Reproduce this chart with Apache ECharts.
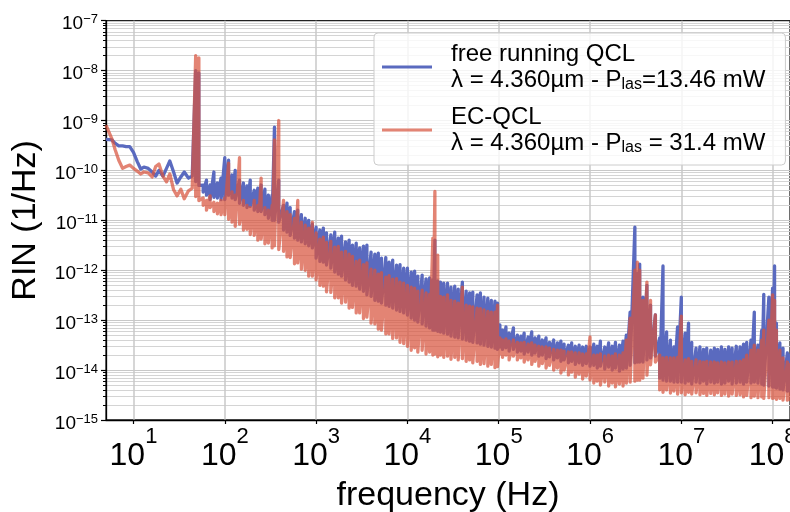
<!DOCTYPE html>
<html>
<head>
<meta charset="utf-8">
<script src="https://cdn.jsdelivr.net/npm/echarts@6/dist/echarts.min.js"></script>
<style>
  html, body { margin: 0; padding: 0; background: #ffffff; }
  #chart { width: 790px; height: 512px; }
</style>
</head>
<body>
<div id="chart"></div>
<script>
// Frequencies (Hz) at which the band of each spectrum was read
const freq = [
  5, 5.8, 6.3, 6.9, 7.6, 8.3, 9.1,
  10, 11, 12, 13, 14.5, 16, 17.5, 19, 21, 23, 25, 27.5, 30, 33, 36, 40, 44, 48, 52, 58, 63, 69, 76, 83, 91,
  100, 110, 120, 130, 145, 160, 175, 190, 210, 230, 250, 275, 300, 330, 350, 390, 440, 480, 520, 580, 630, 690, 760, 830, 910,
  1e3, 1.1e3, 1.2e3, 1.3e3, 1.45e3, 1.6e3, 1.75e3, 1.9e3, 2.1e3, 2.3e3, 2.5e3, 2.75e3, 3e3, 3.3e3, 3.6e3, 4e3, 4.4e3, 4.8e3, 5.2e3, 5.8e3, 6.3e3, 6.9e3, 7.6e3, 8.3e3, 9.1e3,
  1e4, 1.1e4, 1.2e4, 1.3e4, 1.45e4, 1.6e4, 1.75e4, 1.9e4, 2e4, 2.15e4, 2.3e4, 2.5e4, 2.75e4, 3e4, 3.3e4, 3.6e4, 4e4, 4.4e4, 4.8e4, 5.2e4, 5.8e4, 6.3e4, 6.9e4, 7.6e4, 8.3e4, 9.1e4, 9.7e4,
  1.03e5, 1.1e5, 1.2e5, 1.3e5, 1.45e5, 1.6e5, 1.75e5, 1.9e5, 2.1e5, 2.3e5, 2.5e5, 2.75e5, 3e5, 3.3e5, 3.6e5, 4e5, 4.4e5, 4.8e5, 5.2e5, 5.8e5, 6.3e5, 6.9e5, 7.6e5, 8.3e5, 9.1e5,
  1e6, 1.1e6, 1.2e6, 1.3e6, 1.45e6, 1.6e6, 1.75e6, 1.9e6, 2.1e6, 2.3e6, 2.5e6, 2.75e6, 3.1e6, 3.3e6, 3.5e6, 3.8e6, 4.2e6, 4.6e6, 5.2e6, 5.8e6, 6.3e6, 6.9e6, 7.6e6, 8.3e6, 9.1e6,
  1e7, 1.1e7, 1.2e7, 1.3e7, 1.45e7, 1.6e7, 1.75e7, 1.9e7, 2.1e7, 2.3e7, 2.5e7, 2.75e7, 3e7, 3.3e7, 3.6e7, 4e7, 4.4e7, 4.8e7, 5.2e7, 5.8e7, 6.3e7, 6.9e7, 7.6e7, 8e7, 9.1e7,
  1e8, 1.05e8, 1.1e8, 1.2e8, 1.3e8, 1.45e8, 1.55e8
];

// free running QCL: upper and lower edge of the noisy trace (1/Hz)
const blueHi = [
  4.2e-10, 4.1e-10, 3.5e-10, 3.1e-10, 3.1e-10, 3.0e-10, 3.0e-10,
  2.3e-10, 1.5e-10, 1.07e-10, 1.17e-10, 1.1e-10, 9.3e-11, 7.7e-11, 1.0e-10, 7.7e-11, 1.1e-10, 1.55e-10, 9.3e-11, 5.6e-11, 7.4e-11, 9.3e-11, 7.0e-11, 7.7e-11, 1.0e-8, 9.0e-9, 5.1e-11, 6.4e-11, 5.1e-11, 9.3e-11, 5.6e-11, 7.0e-11,
  1.8e-10, 1.6e-10, 8.1e-11, 1.0e-10, 6.4e-11, 5.6e-11, 4.9e-11, 6.4e-11, 4.0e-11, 4.4e-11, 5.1e-11, 4.2e-11, 3.2e-11, 3.2e-11, 7.4e-10, 6.4e-11, 2.0e-11, 2.2e-11, 1.8e-11, 1.5e-11, 1.6e-11, 1.3e-11, 1.1e-11, 1.0e-11, 8.4e-12,
  7.3e-12, 6.4e-12, 7.0e-12, 5.6e-12, 5.1e-12, 5.8e-12, 4.4e-12, 4.8e-12, 3.7e-12, 4.0e-12, 3.2e-12, 3.5e-12, 2.8e-12, 3.05e-12, 3.2e-12, 2.3e-12, 2.1e-12, 2.2e-12, 1.75e-12, 1.8e-12, 1.45e-12, 1.6e-12, 1.27e-12, 1.3e-12, 1.1e-12,
  1.1e-12, 9.2e-13, 9.6e-13, 7.6e-13, 8.0e-13, 6.7e-13, 7.0e-13, 6.4e-13, 4.0e-12, 6.1e-13, 5.8e-13, 5.5e-13, 5.5e-13, 4.6e-13, 4.8e-13, 4.2e-13, 5.8e-13, 3.8e-13, 3.5e-13, 3.65e-13, 3.2e-13, 3.5e-13, 2.9e-13, 2.75e-13, 2.5e-13, 2.4e-13, 2.2e-13,
  8.0e-14, 6.3e-14, 7.3e-14, 5.5e-14, 7.0e-14, 5.0e-14, 4.8e-14, 5.5e-14, 4.6e-14, 5.8e-14, 4.4e-14, 4.8e-14, 4.0e-14, 4.4e-14, 3.6e-14, 4.0e-14, 3.5e-14, 3.8e-14, 3.3e-14, 3.15e-14, 3.5e-14, 3.0e-14, 3.15e-14, 2.9e-14, 3.0e-14,
  2.9e-14, 3.3e-14, 3.0e-14, 3.8e-14, 2.9e-14, 3.5e-14, 3.0e-14, 3.6e-14, 3.15e-14, 3.8e-14, 5.0e-14, 1.45e-13, 7.3e-12, 8.8e-13, 1.33e-12, 2.9e-13, 5.0e-13, 2.0e-13, 1.27e-13, 4.4e-14, 1.22e-12, 5.8e-14, 4.0e-14, 2.9e-14, 7.3e-14,
  2.9e-13, 5.5e-14, 8.7e-14, 3.6e-14, 2.75e-14, 2.9e-14, 2.6e-14, 2.75e-14, 2.5e-14, 2.75e-14, 2.6e-14, 2.9e-14, 2.6e-14, 2.9e-14, 2.75e-14, 3.0e-14, 2.9e-14, 3.3e-14, 3.6e-14, 4.0e-14, 1.45e-13, 3.15e-14, 6.3e-14, 3.3e-13, 2.9e-13,
  4.4e-13, 1.22e-12, 8.7e-14, 3.5e-14, 2.75e-14, 2.2e-14, 2.0e-14
];
const blueLo = [
  4.2e-10, 4.1e-10, 3.5e-10, 3.1e-10, 3.1e-10, 3.0e-10, 3.0e-10,
  2.3e-10, 1.5e-10, 1.07e-10, 1.17e-10, 1.1e-10, 9.3e-11, 7.7e-11, 1.0e-10, 7.7e-11, 1.1e-10, 1.55e-10, 9.3e-11, 5.6e-11, 7.4e-11, 9.3e-11, 7.0e-11, 7.7e-11, 6.0e-11, 5.0e-11, 3.7e-11, 3.2e-11, 2.6e-11, 2.9e-11, 2.8e-11, 2.6e-11,
  2.6e-11, 3.2e-11, 2.8e-11, 2.6e-11, 2.2e-11, 2.0e-11, 1.8e-11, 1.9e-11, 1.6e-11, 1.5e-11, 1.5e-11, 1.3e-11, 1.1e-11, 1.0e-11, 1.0e-11, 9.2e-12, 6.4e-12, 5.8e-12, 5.0e-12, 4.4e-12, 4.0e-12, 3.7e-12, 3.4e-12, 3.1e-12, 2.8e-12,
  1.75e-12, 1.5e-12, 1.45e-12, 1.27e-12, 1.1e-12, 9.2e-13, 8.4e-13, 7.6e-13, 6.4e-13, 5.8e-13, 5.0e-13, 4.8e-13, 4.2e-13, 3.8e-13, 3.2e-13, 3.0e-13, 2.5e-13, 2.4e-13, 2.2e-13, 2.0e-13, 1.9e-13, 1.75e-13, 1.6e-13, 1.5e-13, 1.4e-13,
  1.27e-13, 1.1e-13, 1.0e-13, 9.2e-14, 8.4e-14, 7.6e-14, 7.0e-14, 6.3e-14, 6.3e-14, 6.0e-14, 5.8e-14, 5.5e-14, 5.25e-14, 4.8e-14, 4.6e-14, 4.4e-14, 4.2e-14, 4.0e-14, 3.8e-14, 3.6e-14, 3.5e-14, 3.3e-14, 3.15e-14, 3.0e-14, 2.9e-14, 2.75e-14, 2.6e-14,
  2.9e-14, 2.6e-14, 2.8e-14, 2.4e-14, 2.6e-14, 2.3e-14, 2.4e-14, 2.1e-14, 2.3e-14, 2.0e-14, 2.2e-14, 1.9e-14, 2.0e-14, 1.7e-14, 1.85e-14, 1.6e-14, 1.75e-14, 1.5e-14, 1.6e-14, 1.4e-14, 1.5e-14, 1.3e-14, 1.4e-14, 1.25e-14, 1.35e-14,
  1.2e-14, 1.25e-14, 1.1e-14, 1.2e-14, 1.05e-14, 1.15e-14, 1.0e-14, 1.1e-14, 9.5e-15, 1.05e-14, 1.1e-14, 1.25e-14, 1.4e-14, 1.45e-14, 1.45e-14, 1.45e-14, 1.6e-14, 1.75e-14, 1.9e-14, 6.9e-15, 6.3e-15, 6.0e-15, 6.0e-15, 5.75e-15, 5.75e-15,
  5.75e-15, 5.5e-15, 6.0e-15, 5.25e-15, 5.75e-15, 5.5e-15, 6.0e-15, 5.25e-15, 5.75e-15, 5.5e-15, 5.75e-15, 5.25e-15, 5.5e-15, 6.0e-15, 5.25e-15, 5.5e-15, 5.75e-15, 5.25e-15, 5.75e-15, 5.5e-15, 5.75e-15, 5.5e-15, 5.25e-15, 5.0e-15, 4.8e-15,
  4.56e-15, 4.56e-15, 4.36e-15, 4.16e-15, 4.0e-15, 3.8e-15, 3.6e-15
];

// EC-QCL: upper and lower edge of the noisy trace (1/Hz)
const redHi = [
  8.1e-10, 4.3e-10, 2.6e-10, 1.6e-10, 1.1e-10, 1.2e-10, 1.28e-10,
  1.1e-10, 9.7e-11, 8.5e-11, 9.3e-11, 8.9e-11, 7.4e-11, 1.2e-10, 1.35e-10, 7.7e-11, 5.9e-11, 8.5e-11, 4.1e-11, 3.1e-11, 4.2e-11, 2.7e-11, 3.9e-11, 4.4e-11, 2.0e-8, 1.8e-8, 2.8e-11, 2.5e-11, 3.1e-11, 2.3e-11, 2.2e-11, 2.5e-11,
  2.8e-11, 1.4e-10, 3.7e-11, 3.2e-11, 1.8e-10, 2.5e-11, 2.0e-11, 1.8e-11, 2.5e-11, 2.0e-11, 7.0e-11, 1.8e-11, 1.6e-11, 2.0e-11, 4.1e-10, 1.0e-9, 2.5e-11, 1.5e-11, 1.3e-11, 1.1e-11, 2.5e-11, 9.2e-12, 8.0e-12, 7.0e-12, 9.2e-12,
  5.6e-12, 4.2e-12, 4.6e-12, 3.6e-12, 3.8e-12, 2.9e-12, 3.0e-12, 2.3e-12, 2.4e-12, 2.1e-12, 1.9e-12, 1.5e-12, 1.6e-12, 1.3e-12, 1.4e-12, 1.05e-12, 1.0e-12, 8.4e-13, 9.0e-13, 7.3e-13, 7.8e-13, 6.6e-13, 6.8e-13, 5.8e-13, 5.5e-13,
  5.0e-13, 4.6e-13, 4.4e-13, 3.8e-13, 4.0e-13, 3.5e-13, 3.3e-13, 4.4e-12, 3.8e-11, 2.0e-12, 3.0e-13, 2.9e-13, 3.2e-13, 2.5e-13, 2.4e-13, 2.2e-13, 4.6e-13, 2.0e-13, 1.9e-13, 1.85e-13, 1.75e-13, 1.7e-13, 1.6e-13, 1.5e-13, 1.45e-13, 1.45e-13, 2.0e-13,
  4.4e-14, 4.0e-14, 4.2e-14, 3.8e-14, 4.0e-14, 3.6e-14, 3.5e-14, 3.6e-14, 3.3e-14, 3.5e-14, 3.15e-14, 3.0e-14, 2.9e-14, 2.9e-14, 2.75e-14, 2.6e-14, 2.5e-14, 2.5e-14, 2.4e-14, 2.3e-14, 2.3e-14, 2.2e-14, 2.2e-14, 2.1e-14, 2.1e-14,
  4.6e-14, 2.0e-14, 2.0e-14, 2.1e-14, 1.9e-14, 2.0e-14, 1.9e-14, 2.1e-14, 2.0e-14, 2.2e-14, 4.0e-14, 1.1e-13, 1.0e-12, 1.45e-12, 1.0e-12, 2.5e-13, 5.8e-13, 2.5e-13, 1.27e-13, 2.0e-14, 1.75e-14, 1.8e-14, 1.75e-14, 1.75e-14, 1.8e-14,
  1.2e-13, 1.6e-14, 1.7e-14, 1.5e-14, 1.6e-14, 1.5e-14, 1.45e-14, 1.5e-14, 1.45e-14, 1.45e-14, 1.4e-14, 1.45e-14, 1.4e-14, 1.45e-14, 1.45e-14, 1.5e-14, 1.5e-14, 1.6e-14, 2.0e-14, 2.5e-14, 3.15e-14, 2.5e-14, 4.0e-14, 6.3e-14, 1.0e-13,
  3.2e-13, 2.5e-13, 6.3e-14, 2.5e-14, 1.75e-14, 1.45e-14, 1.3e-14
];
const redLo = [
  8.1e-10, 4.3e-10, 2.6e-10, 1.6e-10, 1.1e-10, 1.2e-10, 1.28e-10,
  1.1e-10, 9.7e-11, 8.5e-11, 9.3e-11, 8.9e-11, 7.4e-11, 1.2e-10, 1.35e-10, 7.7e-11, 5.9e-11, 8.5e-11, 4.1e-11, 3.1e-11, 4.2e-11, 2.7e-11, 3.9e-11, 4.4e-11, 3.0e-11, 2.5e-11, 2.0e-11, 1.6e-11, 1.8e-11, 1.5e-11, 1.35e-11, 1.3e-11,
  1.3e-11, 1.05e-11, 9.2e-12, 7.6e-12, 8.4e-12, 6.4e-12, 6.6e-12, 5.2e-12, 5.0e-12, 4.0e-12, 4.2e-12, 3.4e-12, 3.5e-12, 2.8e-12, 3.1e-12, 2.6e-12, 2.4e-12, 1.85e-12, 1.8e-12, 1.35e-12, 1.4e-12, 1.05e-12, 1.0e-12, 7.6e-13, 7.6e-13,
  6.4e-13, 5.0e-13, 4.8e-13, 3.7e-13, 3.6e-13, 2.8e-13, 2.8e-13, 2.2e-13, 2.3e-13, 1.75e-13, 1.8e-13, 1.4e-13, 1.4e-13, 1.08e-13, 1.15e-13, 8.7e-14, 8.4e-14, 6.6e-14, 6.3e-14, 5.3e-14, 5.3e-14, 4.3e-14, 4.4e-14, 3.6e-14, 3.4e-14,
  3.0e-14, 2.5e-14, 2.8e-14, 2.3e-14, 2.5e-14, 2.1e-14, 2.3e-14, 2.0e-14, 2.1e-14, 1.85e-14, 2.0e-14, 1.8e-14, 1.9e-14, 1.65e-14, 1.8e-14, 1.6e-14, 1.7e-14, 1.5e-14, 1.6e-14, 1.4e-14, 1.5e-14, 1.3e-14, 1.35e-14, 1.2e-14, 1.3e-14, 1.12e-14, 1.18e-14,
  2.1e-14, 1.8e-14, 2.0e-14, 1.6e-14, 1.9e-14, 1.6e-14, 1.75e-14, 1.45e-14, 1.6e-14, 1.3e-14, 1.5e-14, 1.2e-14, 1.35e-14, 1.1e-14, 1.25e-14, 1.0e-14, 1.1e-14, 8.7e-15, 1.0e-14, 8.0e-15, 9.1e-15, 7.2e-15, 8.3e-15, 6.6e-15, 7.6e-15,
  6.3e-15, 5.5e-15, 6.0e-15, 5.0e-15, 5.75e-15, 4.8e-15, 5.5e-15, 4.6e-15, 5.25e-15, 4.8e-15, 5.5e-15, 5.75e-15, 6.0e-15, 6.3e-15, 6.3e-15, 6.9e-15, 7.9e-15, 1.27e-14, 1.45e-14, 4.0e-15, 3.6e-15, 4.0e-15, 3.46e-15, 3.8e-15, 3.3e-15,
  3.5e-15, 3.2e-15, 3.6e-15, 3.3e-15, 3.5e-15, 3.2e-15, 3.4e-15, 3.1e-15, 3.4e-15, 3.2e-15, 3.5e-15, 3.1e-15, 3.3e-15, 3.0e-15, 3.3e-15, 3.1e-15, 3.2e-15, 2.9e-15, 3.1e-15, 2.8e-15, 3.0e-15, 2.8e-15, 2.9e-15, 2.7e-15, 2.8e-15,
  2.7e-15, 2.8e-15, 2.6e-15, 2.7e-15, 2.5e-15, 2.5e-15, 2.4e-15
];

const seriesNames = ['free running QCL', 'EC-QCL'];
const legendLines = {
  'free running QCL': ['free running QCL', 'λ = 4.360µm - P', 'las', '=13.46 mW'],
  'EC-QCL': ['EC-QCL', 'λ = 4.360µm - P', 'las', ' = 31.4 mW']
};

const FONT = '"Liberation Sans", Arial, Helvetica, sans-serif';
const BLUE = '#5a6abf';
const RED = '#d8553f';
const RED_OPACITY = 0.72;

// each frequency contributes its upper and lower reading, giving the dense noisy trace
function trace(hi, lo) {
  const out = [];
  for (let i = 0; i < freq.length; i++) {
    out.push([freq[i], hi[i]]);
    out.push([freq[i], lo[i]]);
  }
  return out;
}

function expOf(v) { return Math.round(Math.log(v) / Math.LN10); }

const chart = echarts.init(document.getElementById('chart'), null, { renderer: 'canvas' });
chart.setOption({
  animation: false,
  backgroundColor: '#ffffff',
  grid: {
    left: 106, right: 0, top: 20.7, bottom: 92,
    show: true, borderColor: '#222222', borderWidth: 1.3, backgroundColor: 'transparent',
    containLabel: false,
    outerBoundsMode: 'none'
  },
  legend: {
    orient: 'vertical',
    left: 374, top: 33,
    padding: [9, 20, 9, 8],
    itemGap: 12,
    itemWidth: 50,
    itemHeight: 3,
    backgroundColor: 'rgba(255,255,255,0.8)',
    borderColor: '#cccccc',
    borderWidth: 1,
    borderRadius: 4,
    selectedMode: false,
    data: [
      { name: seriesNames[0], icon: 'rect', itemStyle: { color: BLUE } },
      { name: seriesNames[1], icon: 'rect', itemStyle: { color: RED, opacity: RED_OPACITY } }
    ],
    formatter: function (name) {
      const p = legendLines[name];
      return '{a|' + p[0] + '}\n{a|' + p[1] + '}{s|' + p[2] + '}{t|' + p[3] + '}';
    },
    textStyle: {
      color: '#000',
      fontFamily: FONT,
      rich: {
        a: { fontSize: 24, lineHeight: 26, color: '#000', fontFamily: FONT, padding: [0, 0, 0, 14] },
        t: { fontSize: 24, lineHeight: 26, color: '#000', fontFamily: FONT },
        s: { fontSize: 16, lineHeight: 15, color: '#000', fontFamily: FONT, verticalAlign: 'bottom' }
      }
    }
  },
  xAxis: {
    type: 'log',
    logBase: 10,
    min: 5,
    max: 1.55e8,
    name: 'frequency (Hz)',
    nameLocation: 'middle',
    nameGap: 59,
    nameTextStyle: { fontSize: 34, color: '#000', fontFamily: FONT },
    axisLine: { show: true, lineStyle: { color: '#000', width: 1.3 } },
    axisTick: { show: true, length: 4, lineStyle: { color: '#000', width: 1.2 } },
    axisLabel: {
      show: true,
      margin: 6,
      showMinLabel: false,
      showMaxLabel: false,
      formatter: function (v) { return '{b|10}{s|' + expOf(v) + '}'; },
      rich: {
        b: { fontSize: 32, lineHeight: 60, color: '#000', fontFamily: FONT },
        s: { fontSize: 22, lineHeight: 13, color: '#000', fontFamily: FONT, verticalAlign: 'top' }
      }
    },
    splitLine: { show: true, showMinLine: false, showMaxLine: false, lineStyle: { color: '#c8c8c8', width: 1.5 } },
    minorTick: { show: false },
    minorSplitLine: { show: false }
  },
  yAxis: {
    type: 'log',
    logBase: 10,
    min: 1e-15,
    max: 1e-7,
    name: 'RIN (1/Hz)',
    nameLocation: 'middle',
    nameGap: 63,
    nameTextStyle: { fontSize: 34, color: '#000', fontFamily: FONT },
    axisLine: { show: true, lineStyle: { color: '#000', width: 1.3 } },
    axisTick: { show: true, length: 5, lineStyle: { color: '#000', width: 1.2 } },
    minorTick: { show: true, splitNumber: 9, length: 3, lineStyle: { color: '#000', width: 1 } },
    axisLabel: {
      show: true,
      margin: 8,
      padding: [7, 0, 0, 0],
      formatter: function (v) { return '{b|10}{s|\u2212' + Math.abs(expOf(v)) + '}'; },
      rich: {
        b: { fontSize: 19, lineHeight: 22, color: '#000', fontFamily: FONT },
        s: { fontSize: 13, lineHeight: 6, color: '#000', fontFamily: FONT, verticalAlign: 'top' }
      }
    },
    splitLine: { show: true, showMaxLine: false, showMinLine: false, lineStyle: { color: '#c8c8c8', width: 1.2 } },
    minorSplitLine: { show: true, lineStyle: { color: '#d4d4d4', width: 1 } }
  },
  series: [
    {
      name: seriesNames[0],
      type: 'line',
      data: trace(blueHi, blueLo),
      showSymbol: false,
      symbol: 'none',
      silent: true,
      z: 2,
      itemStyle: { color: BLUE },
      lineStyle: { color: BLUE, width: 3.3, join: 'round' }
    },
    {
      name: seriesNames[1],
      type: 'line',
      data: trace(redHi, redLo),
      showSymbol: false,
      symbol: 'none',
      silent: true,
      z: 3,
      itemStyle: { color: RED, opacity: RED_OPACITY },
      lineStyle: { color: RED, width: 3.3, opacity: RED_OPACITY, join: 'round' }
    }
  ]
});
</script>
</body>
</html>
